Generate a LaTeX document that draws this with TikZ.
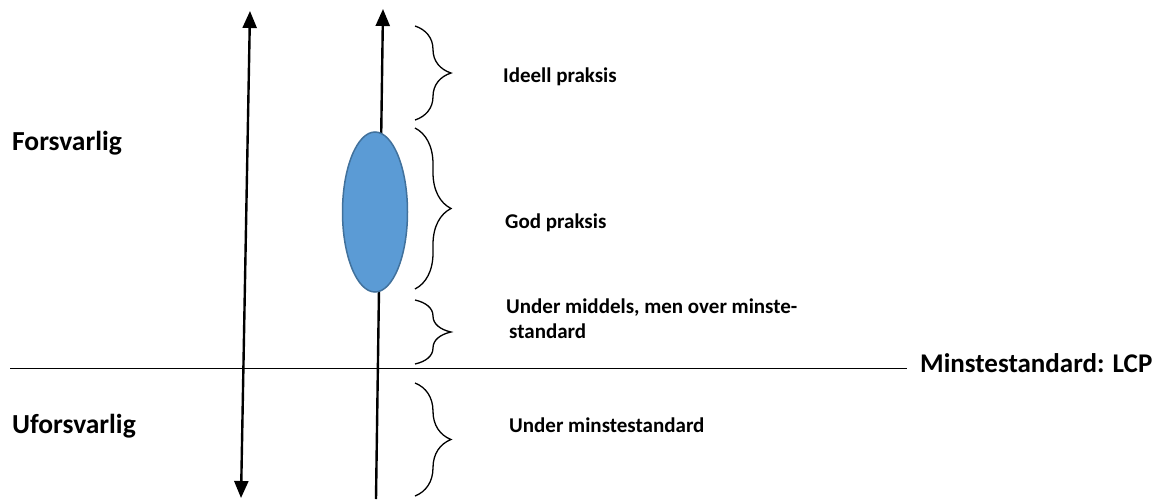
\documentclass[tikz,border=0pt]{standalone}
\usepackage{fontspec}
\setmainfont{Carlito}
\usetikzlibrary{arrows.meta,positioning,shapes.geometric,decorations.pathreplacing}
\definecolor{ovalblue}{RGB}{91,155,213}
\definecolor{ovaledge}{RGB}{65,113,156}
\tikzset{
  axis/.style   = {line width=2.4pt,-{Triangle[width=14pt,length=17pt]}},
  bothaxis/.style = {line width=2.4pt,{Triangle[width=14pt,length=17pt]}-{Triangle[width=14pt,length=17pt]}},
  curly/.style  = {decorate,decoration={brace,amplitude=36pt},line width=1.3pt},
  lbl/.style    = {anchor=base west,font=\fontsize{21}{25}\selectfont\bfseries,align=left,inner sep=0pt},
  side/.style   = {anchor=base west,font=\fontsize{27.5}{30}\selectfont\bfseries,inner sep=0pt},
}
\begin{document}
\begin{tikzpicture}[x=1pt,y=-1pt]
  \useasboundingbox (0,0) rectangle (1176,499);
  % vertical axes
  \coordinate (l top) at (250,11);
  \coordinate (l bot) at (241,498);
  \coordinate (r top) at (383,9);
  \coordinate (r bot) at (376,499);
  \draw[bothaxis] (l bot) -- (l top);
  \draw[axis] (r bot) -- (r top);
  \node[ellipse,draw=ovaledge,line width=1.5pt,fill=ovalblue,
        minimum width=65pt,minimum height=160pt,inner sep=0pt] (oval) at (375,212) {};
  % minimum standard line
  \node[side,font=\fontsize{27}{30}\selectfont\bfseries] (lcp) at (920,372) {Minstestandard: LCP};
  \coordinate (line start) at (10,368);
  \coordinate (line end) at (907,368);
  \draw[line width=1pt] (line start) -- (line end);
  \node[side] (forsv) at (12,150) {Forsvarlig};
  \node[side] (uforsv) at (12,433) {Uforsvarlig};
  % braces
  \coordinate (b1a) at (415,26);  \coordinate (b1b) at (415,120);
  \coordinate (b2a) at (415,128); \coordinate (b2b) at (415,289);
  \coordinate (b3a) at (415,300); \coordinate (b3b) at (415,364);
  \coordinate (b4a) at (415,383); \coordinate (b4b) at (415,496);
  \draw[curly] (b1a) -- (b1b);
  \draw[curly] (b2a) -- (b2b);
  \draw[curly] (b3a) -- (b3b);
  \draw[curly] (b4a) -- (b4b);
  \node[lbl] (ideell) at (503,82) {Ideell praksis};
  \node[lbl] (god) at (505,228) {God praksis};
  \node[lbl] (middels) at (506,338) {Under middels, men over minste-\\\hspace{3pt}standard};
  \node[lbl] (under) at (509,432) {Under minstestandard};
\end{tikzpicture}
\end{document}
